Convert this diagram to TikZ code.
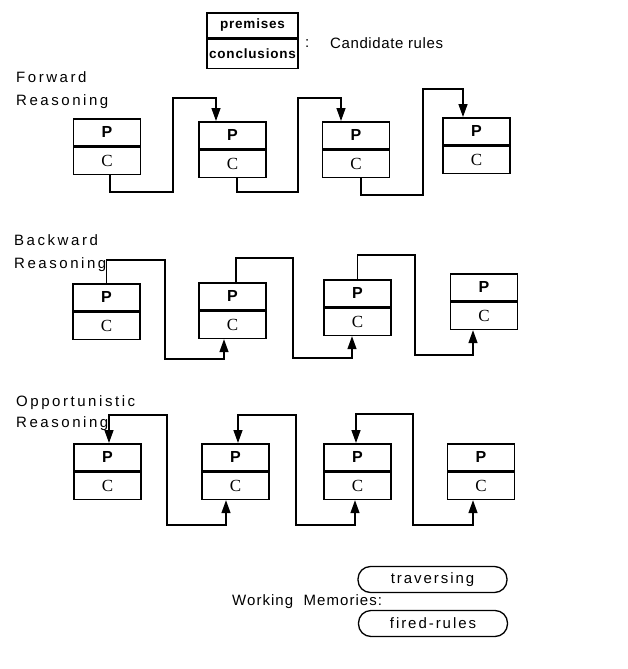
\documentclass[tikz,border=0pt]{standalone}
\usepackage{fontspec}
\setmainfont{Liberation Sans}
\newfontfamily\lbl[LetterSpace=4]{Liberation Sans}
\newfontfamily\lblw[LetterSpace=17]{Liberation Sans}
\newfontfamily\lblm[LetterSpace=13]{Liberation Sans}
\newfontfamily\lblk[LetterSpace=7]{Liberation Sans}
\newfontfamily\lblb[LetterSpace=6]{Liberation Sans Bold}
\newfontfamily\serifC{Liberation Serif}
\usetikzlibrary{calc,arrows.meta}
\newcommand\rulebox[3]{%
  \node[ppart] (#1p) at (#2,#3) {P};
  \node[cpart] (#1c) at (#1p.south) {C};}
\tikzset{
  part/.style={draw, line width=1.6pt, minimum width=67pt, minimum height=27pt,
    inner sep=0pt, anchor=north},
  ppart/.style={part, font=\fontsize{16}{16}\selectfont\bfseries},
  cpart/.style={part, font=\fontsize{17}{17}\serifC},
  lab/.style={anchor=west, inner sep=0pt, font=\fontsize{15}{15}\lbl},
  wlab/.style={anchor=west, inner sep=0pt, font=\fontsize{15}{15}\lblw},
  tip/.tip={Triangle[length=13pt,width=9pt]},
  conn/.style={line width=1.4pt, -tip},
  bconn/.style={line width=1.4pt, tip-tip},
  legpart/.style={draw, line width=1.6pt, minimum width=91pt, inner sep=0pt, anchor=north,
    font=\fontsize{13.5}{13.5}\lblb},
  mem/.style={draw, line width=1.3pt, rounded corners=12.5pt, minimum width=149pt,
    minimum height=26pt, inner sep=0pt, font=\fontsize{15}{15}\lblm},
}
\begin{document}
\begin{tikzpicture}[x=1pt,y=-1pt]
\useasboundingbox (0,0) rectangle (628,669);
% legend
\node[legpart, minimum height=25pt] (lp) at (252.5,12) {premises};
\node[legpart, minimum height=29pt] (lc) at (lp.south) {conclusions};
\node[lab] (colon) at (305,44) {:};
\node[lab] (cand) at (330,43) {Candidate rules};
% labels
\node[wlab] (fw1) at (16,77) {Forward};
\node[wlab] (fw2) at (16,102) {Reasoning};
\node[wlab] (bw1) at (14,240) {Backward};
\node[wlab] (bw2) at (14,265) {Reasoning};
\node[wlab] (op1) at (16,403) {Opportunistic};
\node[wlab] (op2) at (16,424) {Reasoning};
% forward
\rulebox{f1}{107}{118}
\rulebox{f2}{232.5}{121}
\rulebox{f3}{356}{121}
\rulebox{f4}{476.5}{117}
\draw[conn] ($(f1c.south)+(3,0)$) |- (173,192) -- (173,98) -| ($(f2p.north)+(-16.5,0)$);
\draw[conn] ($(f2c.south)+(4.5,0)$) |- (298,192) -- (298,98) -| ($(f3p.north)+(-15,0)$);
\draw[conn] ($(f3c.south)+(5,0)$) |- (423,195) -- (423,89) -| ($(f4p.north)+(-13.5,0)$);
% backward
\rulebox{b1}{106.5}{283}
\rulebox{b2}{232.5}{282}
\rulebox{b3}{357.5}{279}
\rulebox{b4}{484}{273}
\draw[conn] (b1p.north) |- (165,260) -- (165,359) -| ($(b2c.south)+(-8.5,0)$);
\draw[conn] ($(b2p.north)+(3.5,0)$) |- (293,258) -- (293,358) -| ($(b3c.south)+(-5.5,0)$);
\draw[conn] (b3p.north) |- (415,255) -- (415,355) -| ($(b4c.south)+(-11,0)$);
% opportunistic
\rulebox{o1}{107.5}{443}
\rulebox{o2}{235.5}{443}
\rulebox{o3}{357.5}{443}
\rulebox{o4}{481}{443}
\draw[bconn] ($(o2c.south)+(-9.5,0)$) |- (167,525) -- (167,415) -| ($(o1p.north)+(1.5,0)$);
\draw[bconn] ($(o3c.south)+(-2.5,0)$) |- (296,525) -- (296,415) -| ($(o2p.north)+(2.5,0)$);
\draw[bconn] ($(o4c.south)+(-8,0)$) |- (413,525) -- (413,414) -| ($(o3p.north)+(-1.5,0)$);
% working memories
\node[anchor=west, inner sep=0pt, font=\fontsize{15}{15}\lblk] (wm) at (232,602) {Working\ \ Memories:};
\node[mem] (trav) at (432.5,579.5) {traversing};
\node[mem] (fired) at (433,623.5) {fired-rules};
\end{tikzpicture}
\end{document}
